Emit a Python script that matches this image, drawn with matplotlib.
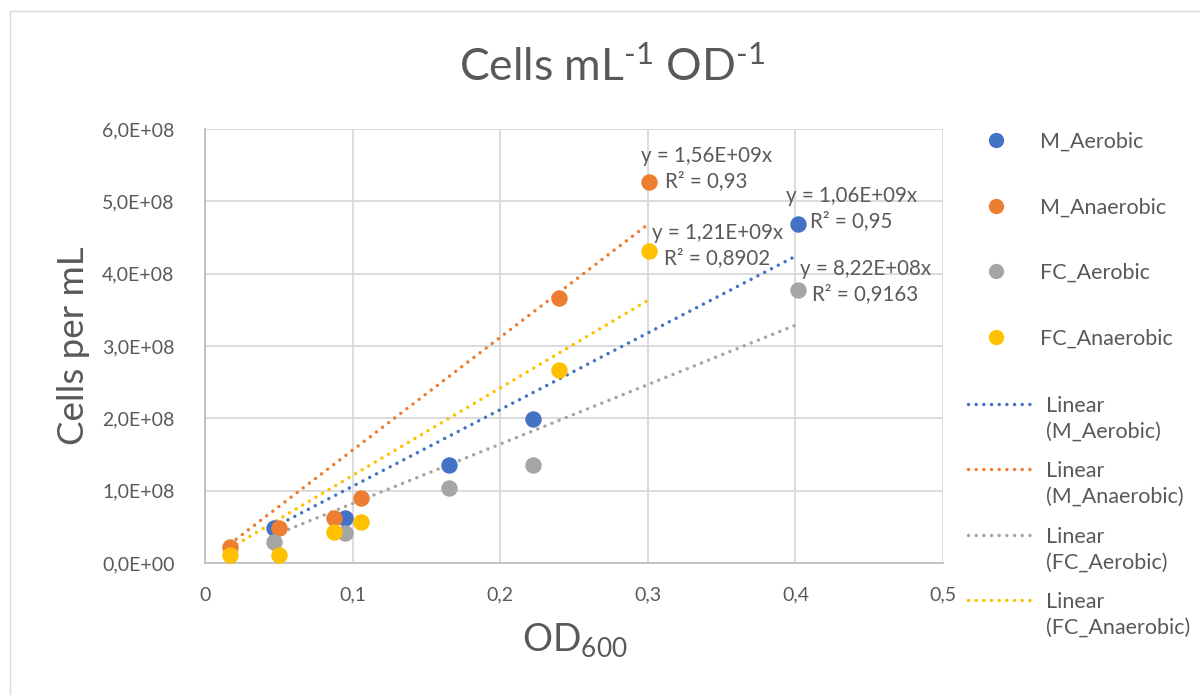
import matplotlib
matplotlib.use('Agg')
from matplotlib import pyplot as plt
from matplotlib.lines import Line2D
from matplotlib.patches import Rectangle
import numpy as np

plt.rcParams['font.family'] = ['Lato', 'DejaVu Sans']
plt.rcParams['mathtext.fontset'] = 'custom'
plt.rcParams['mathtext.rm'] = 'Lato'
plt.rcParams['mathtext.it'] = 'Lato'

# 数据
series_names = ['M_Aerobic', 'M_Anaerobic', 'FC_Aerobic', 'FC_Anaerobic']
colors = ['#4472C4', '#ED7D31', '#A5A5A5', '#FFC000']

m_aer_x = [0.047, 0.095, 0.165, 0.222, 0.402]
m_aer_y = [4.8e7, 6.2e7, 1.36e8, 1.99e8, 4.69e8]
m_ana_x = [0.017, 0.050, 0.0875, 0.106, 0.240, 0.301]
m_ana_y = [2.2e7, 4.8e7, 6.2e7, 9.0e7, 3.67e8, 5.27e8]
fc_aer_x = [0.047, 0.095, 0.165, 0.222, 0.402]
fc_aer_y = [2.9e7, 4.1e7, 1.04e8, 1.36e8, 3.78e8]
fc_ana_x = [0.017, 0.050, 0.0875, 0.106, 0.240, 0.301]
fc_ana_y = [1.1e7, 1.1e7, 4.3e7, 5.7e7, 2.67e8, 4.32e8]

# 趋势线（过原点）斜率和 R²
slopes = [1.06e9, 1.56e9, 8.22e8, 1.21e9]
r2_labels = ['0,95', '0,93', '0,9163', '0,8902']
# 趋势线标签相对最后一个点的偏移（像素）
label_offsets = [(53, 15), (57, 13), (67, 8), (68, 5)]

xs = [m_aer_x, m_ana_x, fc_aer_x, fc_ana_x]
ys = [m_aer_y, m_ana_y, fc_aer_y, fc_ana_y]

text_color = '#595959'
dot_style = (0, (0.01, 2.2))
W, H = 1200, 695

fig = plt.figure(figsize=(12, 6.95), dpi=100)
ax = fig.add_axes([205 / W, 1 - 563 / H, 738 / W, 434 / H])

# 外框
fig.patches.append(Rectangle((10 / W, -0.1), 1.2, 1 - 11 / H + 0.1,
                             transform=fig.transFigure, fill=False,
                             edgecolor='#D9D9D9', linewidth=1.0))

# 散点
for i in range(4):
    ax.scatter(xs[i], ys[i], s=140, color=colors[i], zorder=3, linewidths=0)

# 趋势线
for i in range(4):
    tx = np.array([min(xs[i]), max(xs[i])])
    ax.plot(tx, slopes[i] * tx, color=colors[i], linewidth=2.5,
            linestyle=dot_style, dash_capstyle='round', zorder=2)

# 趋势线方程标签
for i in range(4):
    k = f'{slopes[i]:.2E}'.replace('.', ',')
    label = f'y = {k}x\nR² = {r2_labels[i]}'
    j = int(np.argmax(xs[i]))
    dx, dy = label_offsets[i]
    ax.annotate(label, xy=(xs[i][j], ys[i][j]), xytext=(dx * 0.72, dy * 0.72),
                textcoords='offset points', ha='center', va='center',
                multialignment='center', fontsize=14.8, color=text_color,
                linespacing=1.3, zorder=4)

ax.set_xlim(0, 0.5)
ax.set_ylim(0, 6e8)
xt = np.round(np.arange(0, 0.51, 0.1), 1)
yt = np.arange(0, 6.01e8, 1e8)
ax.set_xticks(xt)
ax.set_yticks(yt)
ax.set_xticklabels([f'{v:g}'.replace('.', ',') for v in xt])
ax.set_yticklabels([f'{v:.1E}'.replace('.', ',') for v in yt])
ax.tick_params(length=0, labelsize=14, labelcolor=text_color)
ax.tick_params(axis='y', pad=22)
ax.tick_params(axis='x', pad=17)

ax.grid(True, color='#D9D9D9', linewidth=1.3)
ax.set_axisbelow(True)
for side in ['top', 'right']:
    ax.spines[side].set_visible(False)
for side in ['left', 'bottom']:
    ax.spines[side].set_color('#BFBFBF')
    ax.spines[side].set_linewidth(1.3)

# 轴标题和图标题
fig.text(575 / W, 1 - 640 / H, 'OD$_{600}$', fontsize=27, color=text_color,
         ha='center', va='center')
fig.text(74 / W, 1 - 346 / H, 'Cells per mL', fontsize=26.5, color=text_color,
         ha='center', va='center', rotation=90)
fig.text(612 / W, 1 - 68 / H, r'Cells mL$^{\text{-}1}$ OD$^{\text{-}1}$',
         fontsize=32, color=text_color, ha='center', va='center')

# 图例：散点
h1 = [Line2D([], [], linestyle='none', marker='o', markersize=11,
             markerfacecolor=c, markeredgewidth=0) for c in colors]
leg1 = fig.legend(h1, series_names, loc='upper left',
                  bbox_to_anchor=(962 / W, 1 - 132 / H), frameon=False,
                  fontsize=15.5, labelcolor=text_color, handlelength=3.2,
                  handletextpad=0.42, labelspacing=2.11, borderpad=0,
                  borderaxespad=0)

# 图例：趋势线（线和第一行文字对齐）
for i, c in enumerate(colors):
    y_px = 404 + 65.3 * i
    yy = 1 - y_px / H
    fig.add_artist(Line2D([968 / W, 1037 / W], [yy, yy], transform=fig.transFigure,
                          color=c, linewidth=2.5, linestyle=dot_style,
                          dash_capstyle='round'))
    fig.text(1046 / W, 1 - (y_px - 8) / H, f'Linear\n({series_names[i]})',
             fontsize=15.5, color=text_color, ha='left', va='top',
             linespacing=1.35, transform=fig.transFigure)

fig.savefig('out.png', dpi=100)
